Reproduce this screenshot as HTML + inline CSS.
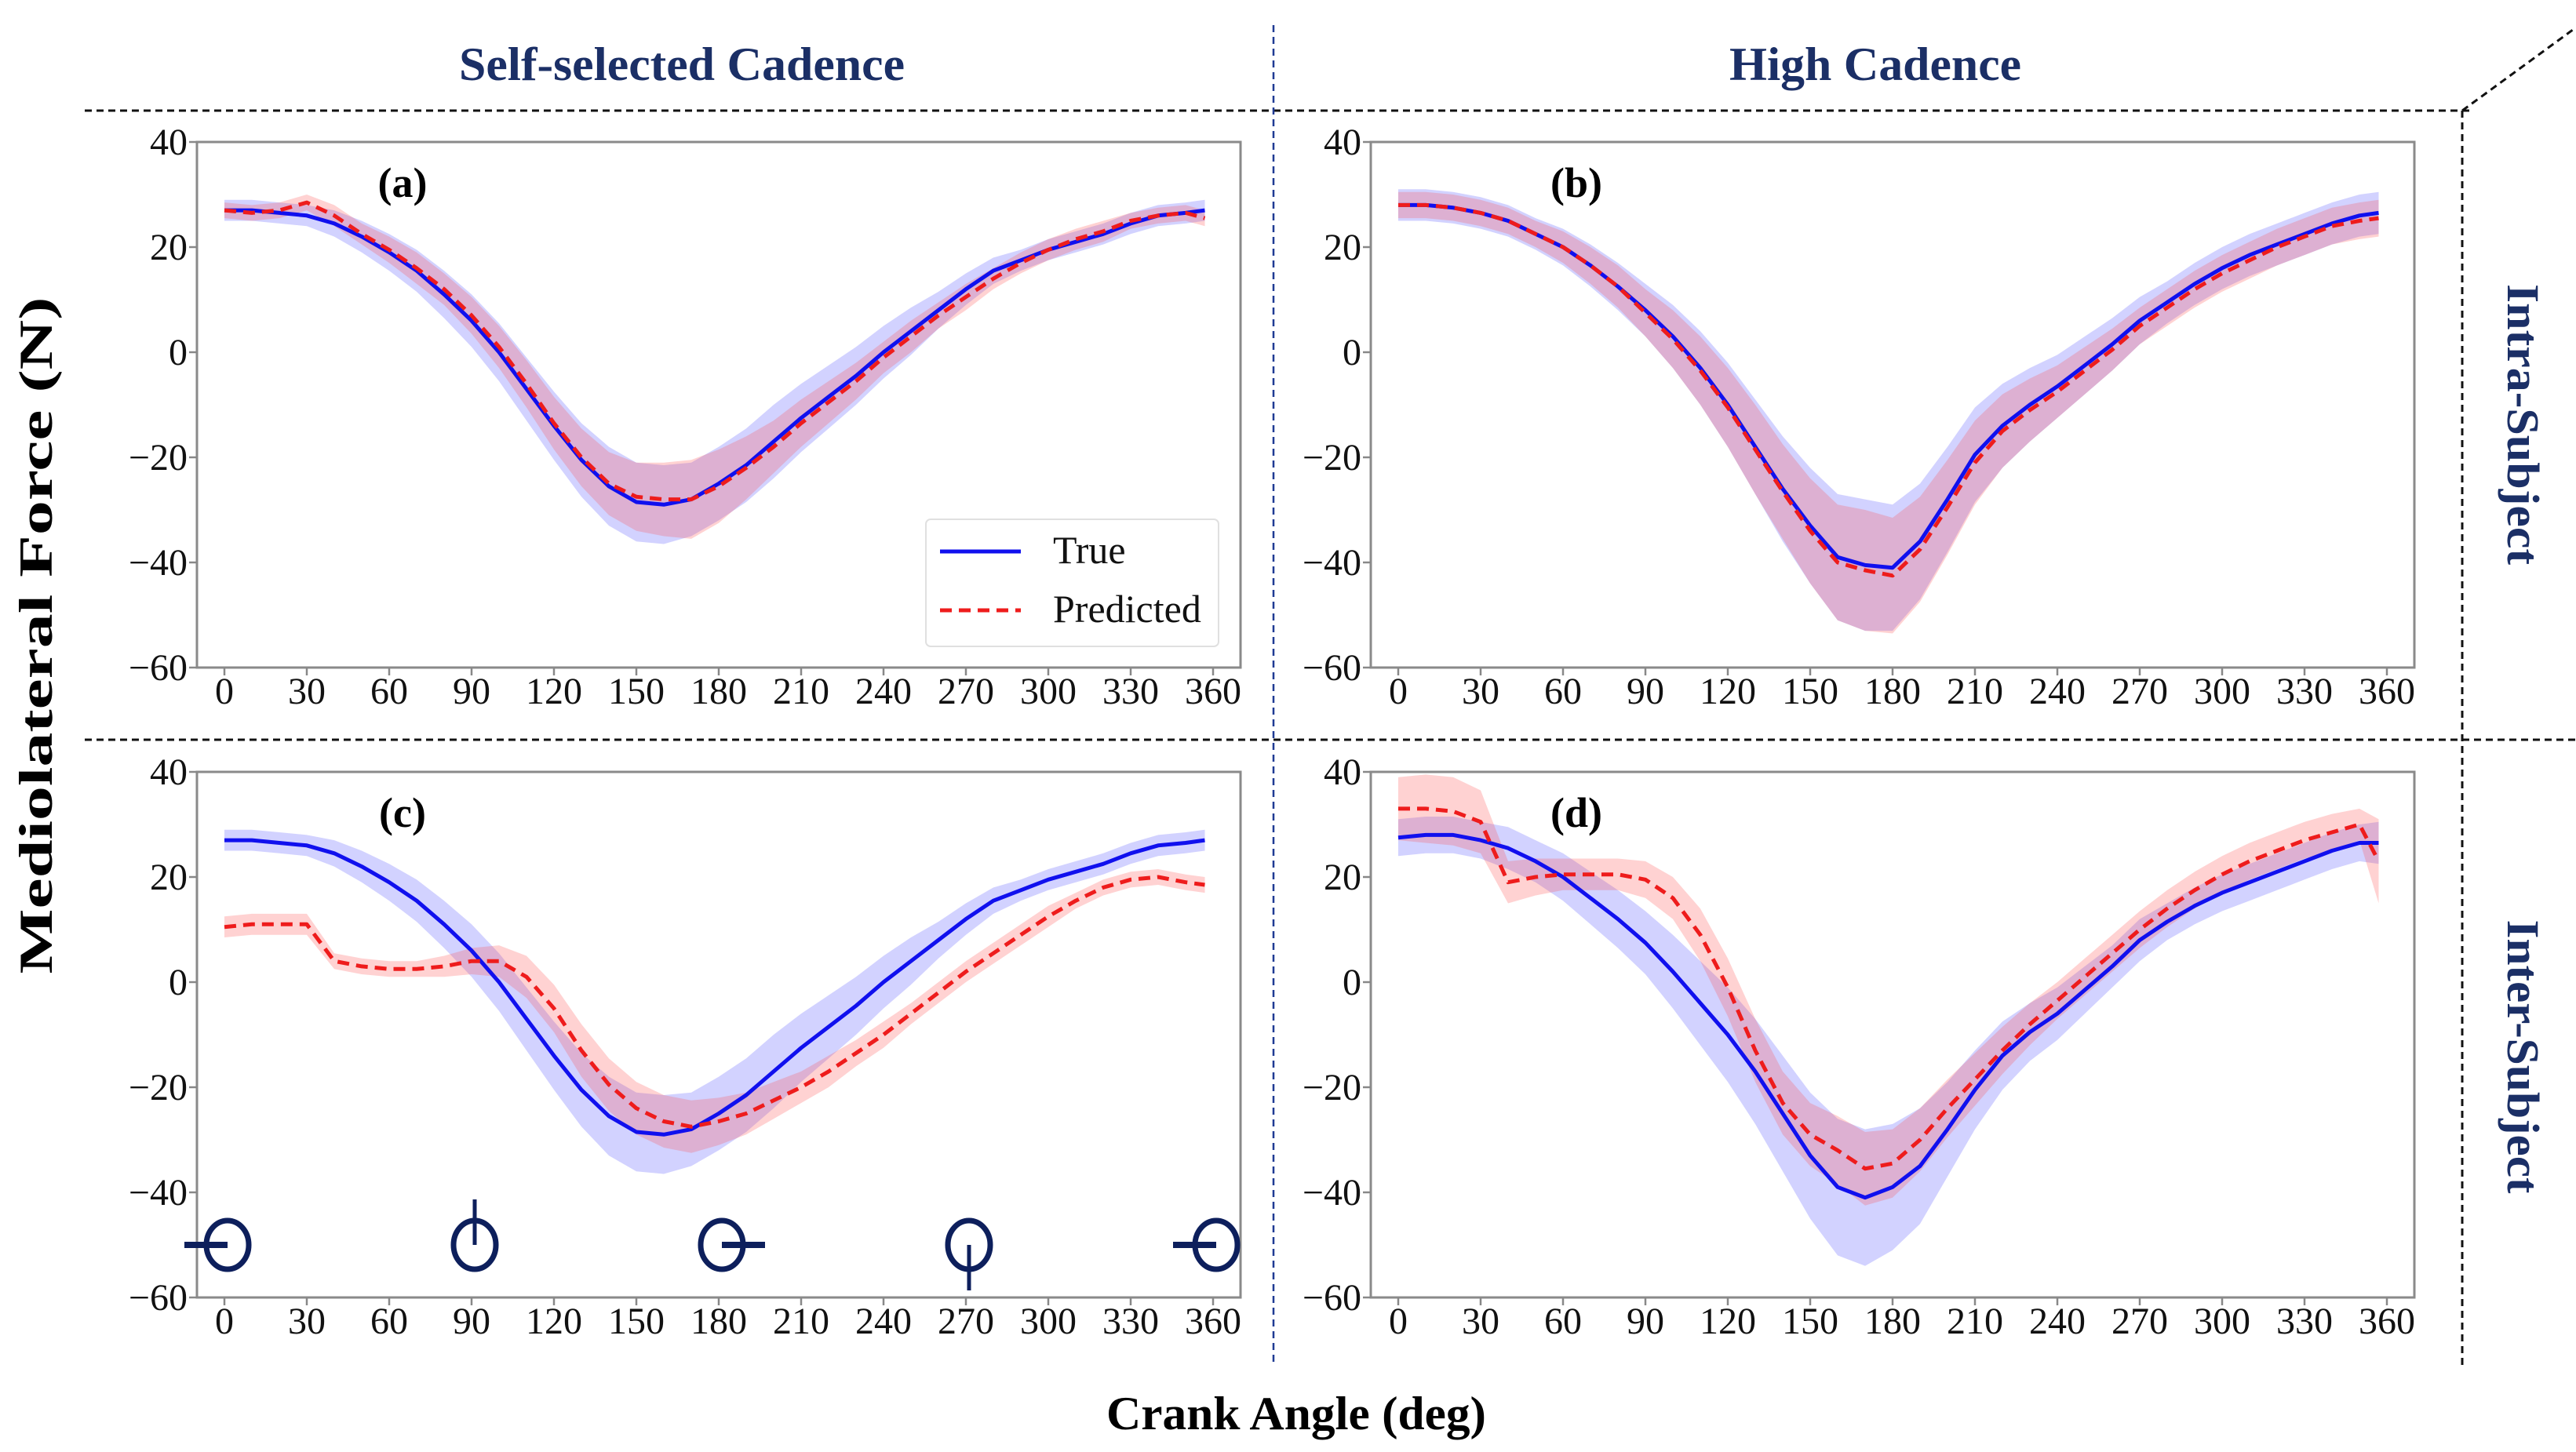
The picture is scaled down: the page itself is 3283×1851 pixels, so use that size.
<!DOCTYPE html>
<html><head><meta charset="utf-8"><style>
html,body{margin:0;padding:0;background:#fff;}
svg{display:block;}
text{font-family:"Liberation Serif",serif;}
</style></head><body>
<svg id="fig" width="3283" height="1851" viewBox="0 0 3283 1851" xmlns="http://www.w3.org/2000/svg">
<g id="frame" stroke="#111" stroke-width="3" stroke-dasharray="9,6" fill="none">
<line x1="108" y1="141" x2="3150" y2="141"/>
<line x1="108" y1="943" x2="3283" y2="943"/>
<line x1="1623" y1="32" x2="1623" y2="1740" stroke="#1f3a93" stroke-width="2.5"/>
<line x1="3138" y1="141" x2="3138" y2="1740"/>
<line x1="3138" y1="141" x2="3283" y2="35"/>
</g>
<text x="869" y="102" text-anchor="middle" font-size="60" font-weight="bold" fill="#1b2f66" textLength="568" lengthAdjust="spacingAndGlyphs">Self-selected Cadence</text>
<text x="2390" y="102" text-anchor="middle" font-size="60" font-weight="bold" fill="#1b2f66" textLength="372" lengthAdjust="spacingAndGlyphs">High Cadence</text>
<text transform="translate(3196,541) rotate(90)" text-anchor="middle" font-size="58" font-weight="bold" fill="#1b2f66" textLength="358" lengthAdjust="spacingAndGlyphs">Intra-Subject</text>
<text transform="translate(3196,1347) rotate(90)" text-anchor="middle" font-size="58" font-weight="bold" fill="#1b2f66" textLength="349" lengthAdjust="spacingAndGlyphs">Inter-Subject</text>
<text transform="translate(66,810) rotate(-90)" text-anchor="middle" font-size="60" font-weight="bold" fill="#000" textLength="863" lengthAdjust="spacingAndGlyphs">Mediolateral Force (N)</text>
<text x="1652" y="1822" text-anchor="middle" font-size="60" font-weight="bold" fill="#000" textLength="484" lengthAdjust="spacingAndGlyphs">Crank Angle (deg)</text>
</svg>
<script>
const angles=[0,10,20,30,40,50,60,70,80,90,100,110,120,130,140,150,160,170,180,190,200,210,220,230,240,250,260,270,280,290,300,310,320,330,340,350,357];
const xTicks=[0,30,60,90,120,150,180,210,240,270,300,330,360];
const yTicks=[40,20,0,-20,-40,-60];
const crankAngles=[0,90,180,270,360];
const aTrue=[27,27,26.5,26,24.5,22,19,15.5,11,6,0,-7,-14,-20.5,-25.5,-28.5,-29,-28,-25,-21.5,-17,-12.5,-8.5,-4.5,0,4,8,12,15.5,17.5,19.5,21,22.5,24.5,26,26.5,27];
const aPred=[27,26.5,27,28.5,26,22.5,19.5,16,12,7,1,-6,-13.5,-20,-25,-27.5,-28,-28,-25.5,-22,-18,-13.5,-9.5,-5.5,-1,3,7,10.5,14,17,19.5,21.5,23,25,26,26.5,25.5];
const aTrueSd=[2,2,2,2,2.5,3,3.5,4,4.5,5,5.5,6,6.5,7,7.5,7.5,7.5,7,7,7,7,6.5,6,5.5,5,4.5,3.5,3,2.5,2,2,2,2,2,2,2,2];
const aPredSd=[1.5,1.5,1.5,1.5,2,2,2.5,3,3,3.5,4,4.5,5,5.5,6,6.5,7,7.5,7,6,5,4.5,4,3.5,3,3,2.5,2.5,2,2,2,2,2,1.5,1.5,1.5,1.5];
const bTrue=[28,28,27.5,26.5,25,22.5,20,16.5,12.5,8,3,-3,-10,-18,-26,-33,-39,-40.5,-41,-36,-28,-19.5,-14,-10,-6.5,-2.5,1.5,6,9.5,13,16,18.5,20.5,22.5,24.5,26,26.5];
const bPred=[28,28,27.5,26.5,25,22.5,20,16.5,12.5,7.5,2.5,-3.5,-10.5,-18.5,-26.5,-34,-40,-41.5,-42.5,-37.5,-29.5,-21,-15,-11,-7.5,-3.5,0.5,5,8.5,12,15,17.5,20,22,24,25,25.5];
const bTrueSd=[3,3,3,3,3,3,3.5,4,4.5,5,6,7,8,9,10,11,12,12.5,12,11,10,9,8,7,6,5.5,5,4.5,4,4,4,4,4,4,4,4,4];
const bPredSd=[2.5,2.5,2.5,2.5,2.5,2.5,3,3.5,4,4.5,5.5,6.5,7.5,8.5,9,10,11,11.5,11,10,9,8,7,6,5,4.5,4,3.5,3.5,3.5,3.5,3.5,3.5,3.5,3.5,3.5,3.5];
const cTrue=aTrue;
const cPred=[10.5,11,11,11,4,3,2.5,2.5,3,4,4,1,-5,-13,-19.5,-24,-26.5,-27.5,-26.5,-25,-22.5,-20,-17,-13.5,-10,-6,-2,2,5.5,9,12.5,15.5,18,19.5,20,19,18.5];
const cTrueSd=aTrueSd;
const cPredSd=[2,2,2,2,1.5,1.5,1.5,1.5,2,2.5,3,4,4.5,5,5,5,5,5,4.5,4,3.5,3,3,2.5,2.5,2,2,2,2,2,2,1.5,1.5,1.5,1.5,1.5,1.5];
const dTrue=[27.5,28,28,27,25.5,23,20,16,12,7.5,2,-4,-10,-17,-25,-33,-39,-41,-39,-35,-28,-20.5,-14,-9.5,-6,-1.5,3,8,11.5,14.5,17,19,21,23,25,26.5,26.5];
const dPred=[33,33,32.5,30.5,19,20,20.5,20.5,20.5,19.5,16,9,-1,-13,-23,-29,-32,-35.5,-34.5,-30,-24,-18.5,-13,-8,-3.5,1,5.5,10,14,17.5,20.5,23,25,27,28.5,30,23];
const dTrueSd=[3.5,3.5,3.5,3.5,4,4,4.5,5,5.5,6,7,8,9,10,11,12,13,13,12,11,9,7.5,6.5,5.5,5,4.5,4,4,3.5,3.5,3.5,3.5,3.5,3.5,3.5,3.5,4];
const dPredSd=[6,6.5,6.5,6,4,3.5,3,3,3,3.5,4,5,5.5,6,6,6,6.5,7,6.5,6,5.5,5,4.5,4,3.5,3.5,3.5,3.5,3.5,3.5,3.5,3.5,3.5,3.5,3.5,3,8];

const NS='http://www.w3.org/2000/svg';
const svg=document.getElementById('fig');
function mk(tag,attrs,parent){const e=document.createElementNS(NS,tag);for(const k in attrs)e.setAttribute(k,attrs[k]);(parent||svg).appendChild(e);return e;}
const X0=-10,X1=370,Y0=-60,Y1=40;
const panels=[
 {id:'a',L:251,T:181,tr:aTrue,pr:aPred,ts:aTrueSd,ps:aPredSd},
 {id:'b',L:1747,T:181,tr:bTrue,pr:bPred,ts:bTrueSd,ps:bPredSd},
 {id:'c',L:251,T:984,tr:cTrue,pr:cPred,ts:cTrueSd,ps:cPredSd},
 {id:'d',L:1747,T:984,tr:dTrue,pr:dPred,ts:dTrueSd,ps:dPredSd}];
const W=1330,H=670;
panels.forEach(p=>{
  const xs=v=>p.L+(v-X0)/(X1-X0)*W;
  const ys=v=>p.T+(Y1-v)/(Y1-Y0)*H;
  const g=mk('g',{});
  
  
  function band(m,s,color,name){
    let d='';
    angles.forEach((a,i)=>{d+=(i?'L':'M')+xs(a).toFixed(1)+','+ys(m[i]+s[i]).toFixed(1);});
    for(let i=angles.length-1;i>=0;i--){d+='L'+xs(angles[i]).toFixed(1)+','+ys(m[i]-s[i]).toFixed(1);}
    const e=mk('path',{d:d+'Z',fill:color,'fill-opacity':0.25,stroke:'none'},g);
    
    
  }
  function line(m,color,dash,name){
    const pts=angles.map((a,i)=>xs(a).toFixed(1)+','+ys(m[i]).toFixed(1)).join(' ');
    const e=mk('polyline',{points:pts,fill:'none',stroke:color,'stroke-width':5,'stroke-linejoin':'round'},g);
    if(dash)e.setAttribute('stroke-dasharray',dash);
    
    
  }
  band(p.tr,p.ts,'#4b4bff','true-band-'+p.id);
  band(p.pr,p.ps,'#ff4b4b','predicted-band-'+p.id);
  line(p.tr,'#1010ee',null,'true-line-'+p.id);
  line(p.pr,'#ee1c1c','15,9','predicted-line-'+p.id);
  const box=mk('rect',{x:p.L,y:p.T,width:W,height:H,fill:'none',stroke:'#8a8a8a','stroke-width':3},g);
  
  
  xTicks.forEach(t=>{
    const x=xs(t);
    mk('line',{x1:x,y1:p.T+H,x2:x,y2:p.T+H+10,stroke:'#888','stroke-width':2.5},g);
    const tx=mk('text',{x:x,y:p.T+H+46,'text-anchor':'middle','font-size':48,fill:'#111'},g);
    tx.textContent=t;
    
    
  });
  yTicks.forEach(t=>{
    const y=ys(t);
    mk('line',{x1:p.L-10,y1:y,x2:p.L,y2:y,stroke:'#888','stroke-width':2.5},g);
    const tx=mk('text',{x:p.L-12,y:y+16,'text-anchor':'end','font-size':48,fill:'#111'},g);
    tx.textContent=(t<0?'\u2212':'')+Math.abs(t);
    
    
  });
  const lab=mk('text',{x:xs(30)+122,y:p.T+70,'text-anchor':'middle','font-size':54,'font-weight':'bold',fill:'#000'},g);
  lab.textContent='('+p.id+')';
  
  
  if(p.id==='a'){
    const lg=mk('g',{},g);
    
    
    mk('rect',{x:1180,y:662,width:373,height:162,rx:6,fill:'#fff','fill-opacity':0.85,stroke:'#e0e0e0','stroke-width':2},lg);
    const l1=mk('line',{x1:1198,y1:703,x2:1301,y2:703,stroke:'#1010ee','stroke-width':5},lg);
    
    
    const t1=mk('text',{x:1342,y:718,'font-size':50,fill:'#111'},lg);t1.textContent='True';
    const l2=mk('line',{x1:1198,y1:778,x2:1301,y2:778,stroke:'#ee1c1c','stroke-width':5,'stroke-dasharray':'15,9'},lg);
    
    
    const t2=mk('text',{x:1342,y:793,'font-size':50,fill:'#111'},lg);t2.textContent='Predicted';
  }
  if(p.id==='c'){
    crankAngles.forEach(a=>{
      const cx=xs(a)+4,cy=ys(-50);
      const cg=mk('g',{stroke:'#0d1f5c','stroke-width':7,fill:'none'},g);
      
      
      mk('ellipse',{cx:cx,cy:cy,rx:27,ry:31},cg);
      const r=a*Math.PI/180;
      const dx=-Math.cos(r)*55, dy=-Math.sin(r)*58;
      mk('line',{x1:cx,y1:cy,x2:cx+dx,y2:cy+dy,'stroke-width':a%180===0?8:5},cg);
    });
  }
});
</script>
</body></html>
